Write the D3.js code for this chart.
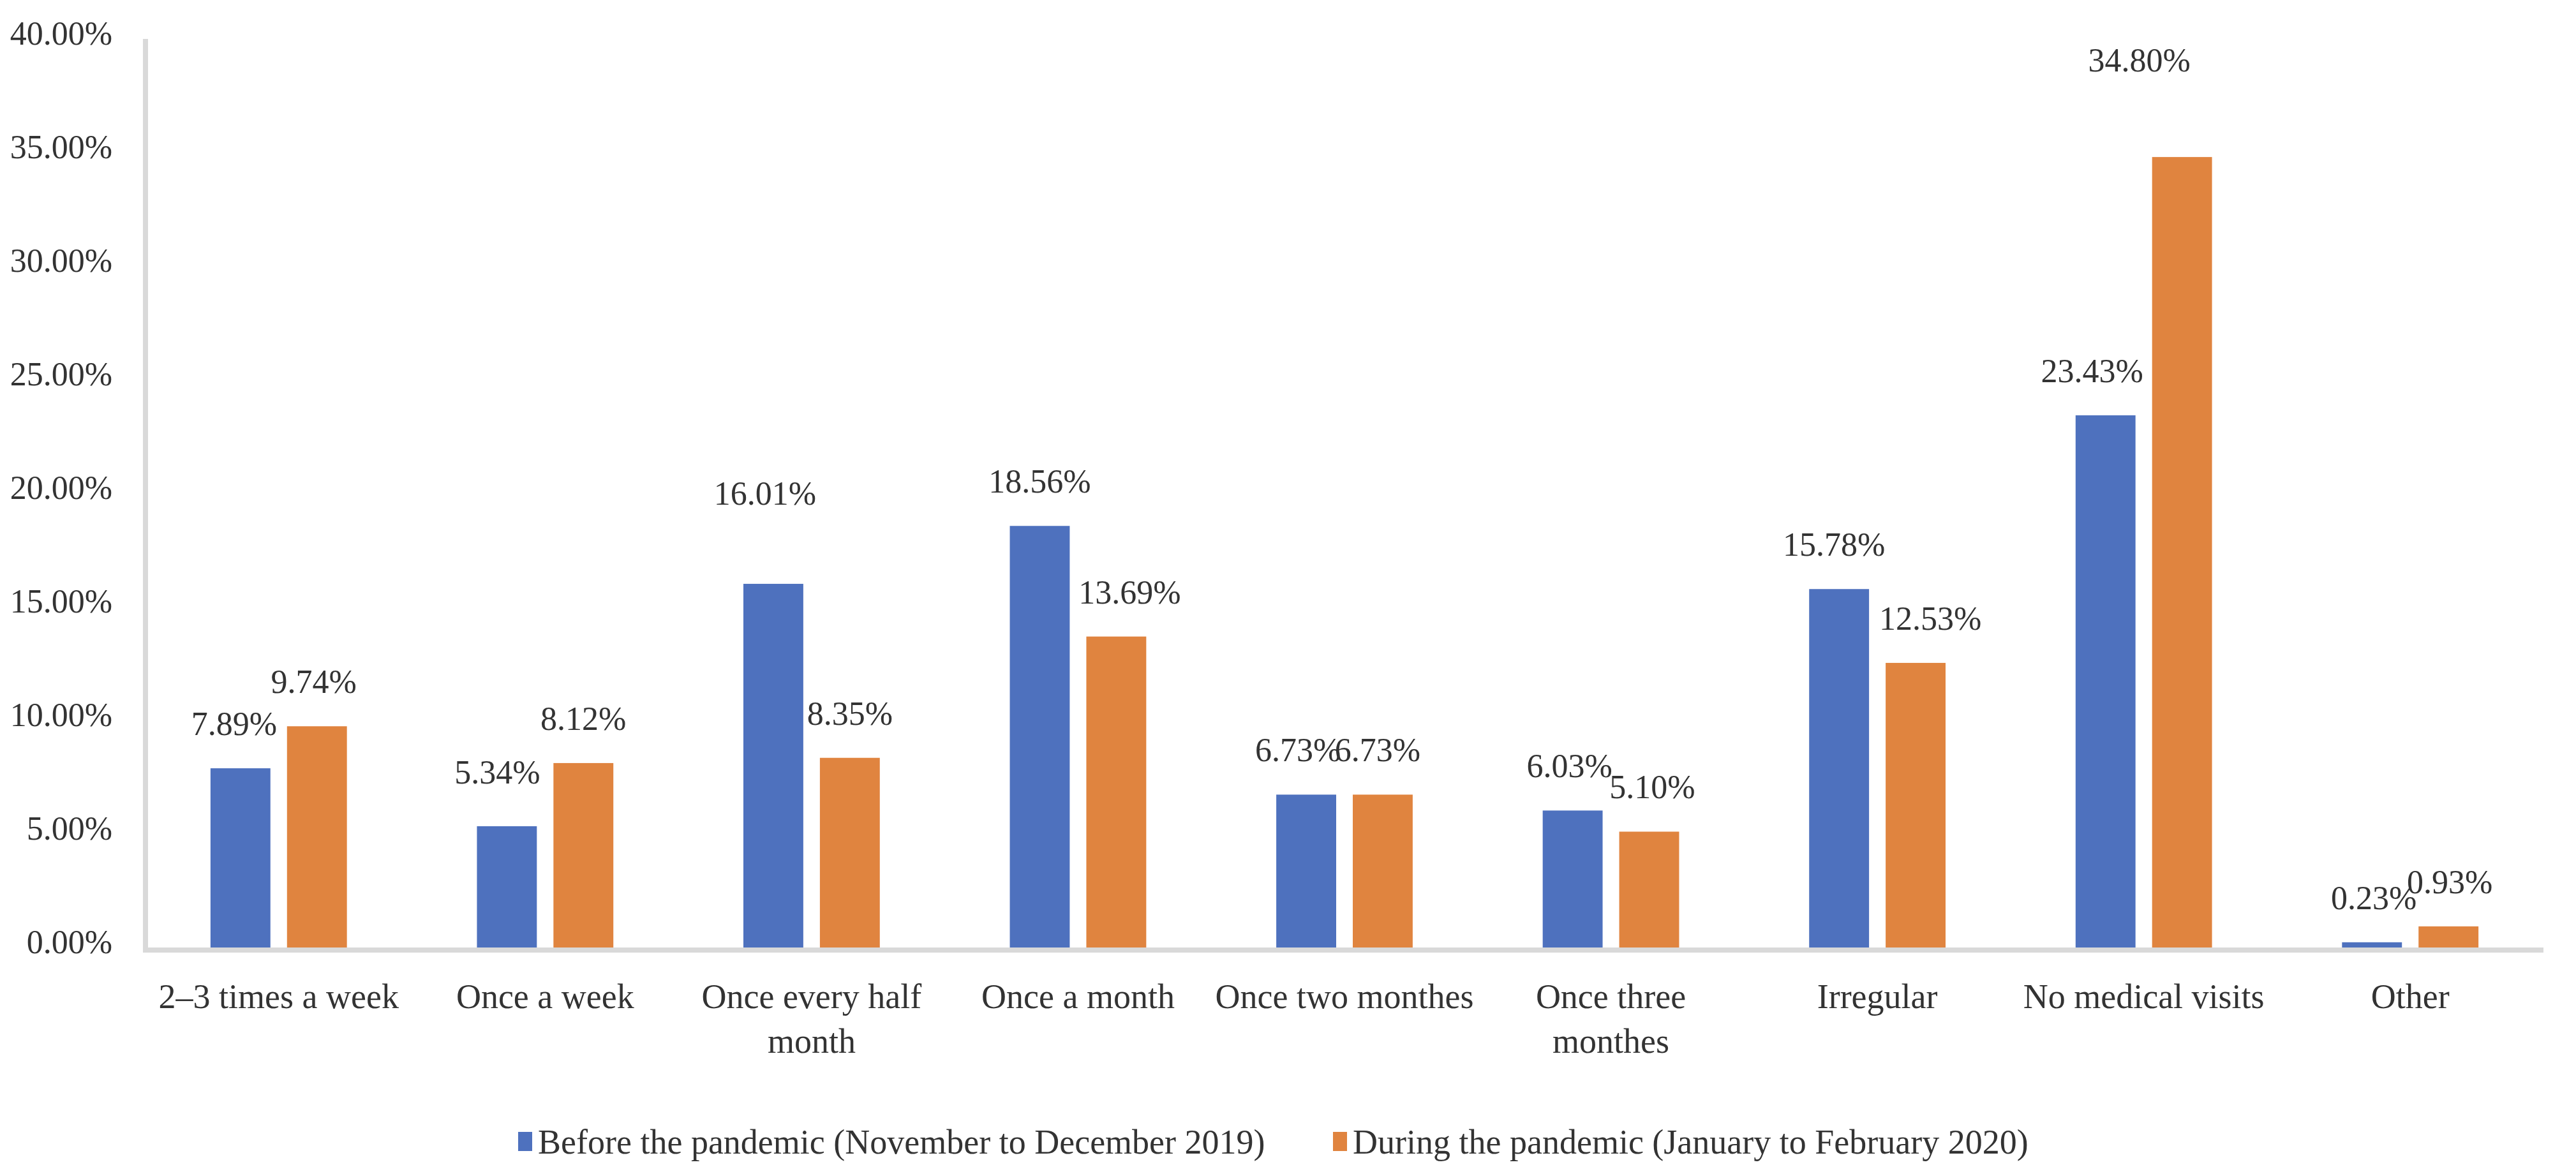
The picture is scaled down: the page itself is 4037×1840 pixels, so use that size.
<!DOCTYPE html>
<html>
<head>
<meta charset="utf-8">
<script src="https://cdn.jsdelivr.net/npm/d3@7"></script>
<style>
  body { margin: 0; background: #fff; }
</style>
</head>
<body>
<div class="canvas"></div>
<script>
// data
var categories = ["2\u20133 times a week", "Once a week", "Once every half\nmonth", "Once a month",
    "Once two monthes", "Once three\nmonthes", "Irregular", "No medical visits", "Other"];
var seriesNames = ["Before the pandemic (November to December 2019)", "During the pandemic (January to February 2020)"];
var beforeValues = [7.89, 5.34, 16.01, 18.56, 6.73, 6.03, 15.78, 23.43, 0.23];
var duringValues = [9.74, 8.12, 8.35, 13.69, 6.73, 5.10, 12.53, 34.80, 0.93];
var yTicks = [0, 5, 10, 15, 20, 25, 30, 35, 40];

var colors = ["#4e71be", "#e0843f"];
var textColor = "#333";
var font = "'Liberation Serif', 'Times New Roman', serif";

// manual label nudges (the source chart has hand placed labels)
var labelShiftX = [[-10, -15, -13, 0, -13, -5, -8, -21, 3], [-5, 0, 0, 21, -8, 5, 23, -67, 2]];
var labelShiftY = [[0, -15, -72, 0, 0, 0, 0, 0, 0], [0, 0, 0, 0, 0, 0, 0, -82, 0]];

var svg = d3.select(".canvas").append("svg").attr("width", 4037).attr("height", 1840);

var plot = { left: 228, right: 3986, top: 61, bottom: 1485 };

var x = d3.scaleBand().domain(categories).range([plot.left, plot.right]).padding(0);
var xInner = d3.scaleBand().domain([0, 1])
    .range([-x.bandwidth() * 0.256, x.bandwidth() * 0.256])
    .paddingInner(0.217);
var y = d3.scaleLinear().domain([0, 40]).range([plot.bottom, plot.top]);

var graph = svg.append("g");

// bars
var series = [beforeValues, duringValues];
series.forEach(function (values, s) {
    graph.selectAll(".bar" + s)
        .data(values)
        .enter()
        .append("rect")
        .attr("x", function (d, i) { return x(categories[i]) + x.bandwidth() / 2 + xInner(s); })
        .attr("y", function (d) { return y(d); })
        .attr("width", xInner.bandwidth())
        .attr("height", function (d) { return y(0) - y(d); })
        .attr("fill", colors[s]);

    graph.selectAll(".label" + s)
        .data(values)
        .enter()
        .append("text")
        .attr("x", function (d, i) { return x(categories[i]) + x.bandwidth() / 2 + xInner(s) + xInner.bandwidth() / 2 + labelShiftX[s][i]; })
        .attr("y", function (d, i) { return y(d) - 52 + labelShiftY[s][i]; })
        .attr("text-anchor", "middle")
        .attr("font-family", font)
        .attr("font-size", "52px")
        .attr("fill", textColor)
        .text(function (d) { return d.toFixed(2) + "%"; });
});

// axis lines
graph.append("line")
    .attr("x1", plot.left).attr("x2", plot.left)
    .attr("y1", plot.top).attr("y2", plot.bottom + 8)
    .attr("stroke", "#d9d9d9").attr("stroke-width", 8);
graph.append("line")
    .attr("x1", plot.left - 4).attr("x2", plot.right)
    .attr("y1", plot.bottom + 4).attr("y2", plot.bottom + 4)
    .attr("stroke", "#d9d9d9").attr("stroke-width", 8);

// y axis labels
var yAxis = d3.axisLeft(y).tickValues(yTicks).tickSize(0).tickPadding(52)
    .tickFormat(function (d) { return d.toFixed(2) + "%"; });
var yg = graph.append("g").attr("transform", "translate(" + plot.left + ",-8)").call(yAxis);
yg.select(".domain").remove();
yg.selectAll("text")
    .attr("font-family", font)
    .attr("font-size", "52px")
    .attr("fill", textColor);

// x axis labels (two lines where the source wraps)
var xg = graph.append("g");
categories.forEach(function (c) {
    var lines = c.split("\n");
    var t = xg.append("text")
        .attr("x", x(c) + x.bandwidth() / 2)
        .attr("y", 1580)
        .attr("text-anchor", "middle")
        .attr("font-family", font)
        .attr("font-size", "54px")
        .attr("fill", textColor);
    lines.forEach(function (l, k) {
        t.append("tspan")
            .attr("x", x(c) + x.bandwidth() / 2)
            .attr("dy", k === 0 ? 0 : 70)
            .text(l);
    });
});

// legend
var legendX = [812, 2089];
seriesNames.forEach(function (name, s) {
    graph.append("rect")
        .attr("x", legendX[s])
        .attr("y", 1774)
        .attr("width", 22)
        .attr("height", 30)
        .attr("fill", colors[s]);
    graph.append("text")
        .attr("x", legendX[s] + 31)
        .attr("y", 1808)
        .attr("font-family", font)
        .attr("font-size", "54px")
        .attr("fill", textColor)
        .text(name);
});
</script>
</body>
</html>
